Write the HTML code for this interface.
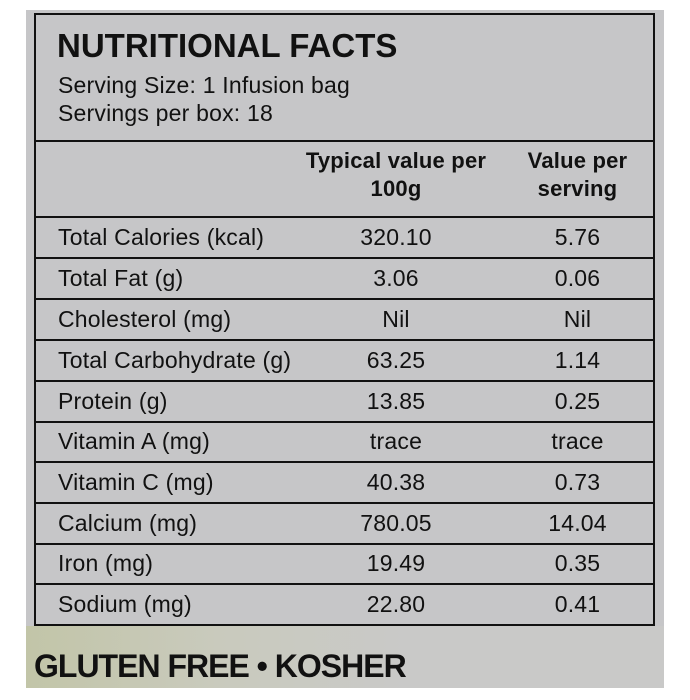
<!DOCTYPE html>
<html><head><style>
body{margin:0;width:690px;height:700px;background:#fff;position:relative;overflow:hidden;font-family:"Liberation Sans",sans-serif;color:#111}
.bg{position:absolute;left:26px;top:10px;width:638px;height:678px;background:#c6c6c8}
.bot{position:absolute;left:26px;top:626px;width:638px;height:62px;background:linear-gradient(90deg,#c2c5a8 0%,#c9cabd 30%,#c9c9c8 60%)}
.box{position:absolute;left:34px;top:13px;width:617px;height:609px;border:2px solid #111}
.h{position:absolute;left:0;width:617px;height:2px;background:#111}
.t{position:absolute;white-space:nowrap;font-size:23px;letter-spacing:0.2px}
.c1{left:58px}
.c2{left:290px;width:212px;text-align:center}
.c3{left:500px;width:155px;text-align:center}
.b{font-weight:bold}
</style></head><body>
<div class="bg"></div><div class="bot"></div>
<div class="box">
<div class="h" style="top:125px"></div>
<div class="h" style="top:201px"></div>
<div class="h" style="top:242px"></div>
<div class="h" style="top:283px"></div>
<div class="h" style="top:324px"></div>
<div class="h" style="top:365px"></div>
<div class="h" style="top:406px"></div>
<div class="h" style="top:446px"></div>
<div class="h" style="top:487px"></div>
<div class="h" style="top:528px"></div>
<div class="h" style="top:568px"></div>
</div>
<div class="t b" style="left:57px;top:27px;font-size:33px;letter-spacing:0">NUTRITIONAL FACTS</div>
<div class="t c1" style="top:72px">Serving Size: 1 Infusion bag</div>
<div class="t c1" style="top:100px">Servings per box: 18</div>
<div class="t c2 b" style="top:147px;line-height:28px;font-size:22px">Typical value per<br>100g</div>
<div class="t c3 b" style="top:147px;line-height:28px;font-size:22px">Value per<br>serving</div>
<div class="t c1" style="top:224px">Total Calories (kcal)</div><div class="t c2" style="top:224px">320.10</div><div class="t c3" style="top:224px">5.76</div>
<div class="t c1" style="top:265px">Total Fat (g)</div><div class="t c2" style="top:265px">3.06</div><div class="t c3" style="top:265px">0.06</div>
<div class="t c1" style="top:306px">Cholesterol (mg)</div><div class="t c2" style="top:306px">Nil</div><div class="t c3" style="top:306px">Nil</div>
<div class="t c1" style="top:347px">Total Carbohydrate (g)</div><div class="t c2" style="top:347px">63.25</div><div class="t c3" style="top:347px">1.14</div>
<div class="t c1" style="top:388px">Protein (g)</div><div class="t c2" style="top:388px">13.85</div><div class="t c3" style="top:388px">0.25</div>
<div class="t c1" style="top:428px">Vitamin A (mg)</div><div class="t c2" style="top:428px">trace</div><div class="t c3" style="top:428px">trace</div>
<div class="t c1" style="top:469px">Vitamin C (mg)</div><div class="t c2" style="top:469px">40.38</div><div class="t c3" style="top:469px">0.73</div>
<div class="t c1" style="top:510px">Calcium (mg)</div><div class="t c2" style="top:510px">780.05</div><div class="t c3" style="top:510px">14.04</div>
<div class="t c1" style="top:550px">Iron (mg)</div><div class="t c2" style="top:550px">19.49</div><div class="t c3" style="top:550px">0.35</div>
<div class="t c1" style="top:591px">Sodium (mg)</div><div class="t c2" style="top:591px">22.80</div><div class="t c3" style="top:591px">0.41</div>
<div class="t b" style="left:34px;top:648px;font-size:32px;letter-spacing:-1px">GLUTEN FREE • KOSHER</div>
</body></html>
